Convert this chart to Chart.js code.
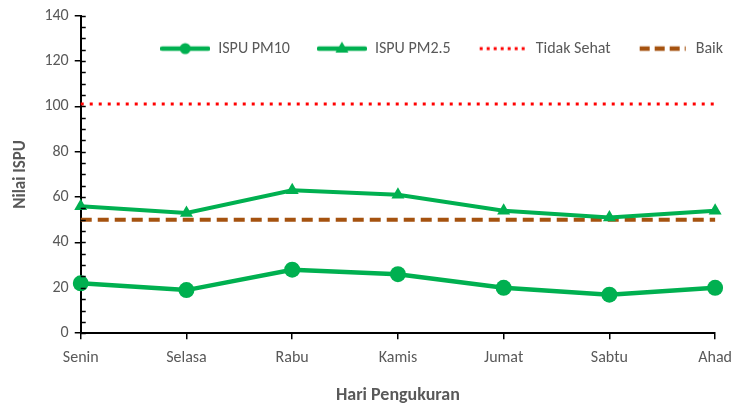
<!DOCTYPE html>
<html>
<head>
<meta charset="utf-8">
<script src="https://cdn.jsdelivr.net/npm/chart.js@4.4.0/dist/chart.umd.min.js"></script>
<style>
  html, body { margin: 0; padding: 0; background: #fff; }
  #wrap { width: 741px; height: 406px; }
</style>
</head>
<body>
<div id="wrap"><canvas id="chart"></canvas></div>
<script>
// Data
const days = ['Senin', 'Selasa', 'Rabu', 'Kamis', 'Jumat', 'Sabtu', 'Ahad'];
const pm10 = [22, 19, 28, 26, 20, 17, 20];
const pm25 = [56, 53, 63, 61, 54, 51, 54];
const tidakSehat = [101, 101, 101, 101, 101, 101, 101];
const baik = [50, 50, 50, 50, 50, 50, 50];
const yTicks = [0, 20, 40, 60, 80, 100, 120, 140];

const GREEN = '#00b050';
const RED = '#ff0000';
const BROWN = '#a5520f';
const GREY = '#595959';
const FONT = 'Carlito, Lato, "Liberation Sans", sans-serif';

// Legend sample: line with marker in the middle
function legendSample(color, width, dash, marker){
	const c = document.createElement('canvas');
	c.width = 50; c.height = 16;
	const ctx = c.getContext('2d');
	ctx.strokeStyle = color;
	ctx.lineWidth = width;
	ctx.setLineDash(dash);
	ctx.lineCap = dash.length ? 'butt' : 'round';
	ctx.beginPath();
	ctx.moveTo(2, 8);
	ctx.lineTo(48, 8);
	ctx.stroke();
	ctx.fillStyle = color;
	if( marker === 'circle' ){
		ctx.beginPath();
		ctx.arc(25, 8, 5.5, 0, Math.PI * 2);
		ctx.fill();
	} else if( marker === 'triangle' ){
		ctx.beginPath();
		ctx.moveTo(25, 1);
		ctx.lineTo(31.5, 12);
		ctx.lineTo(18.5, 12);
		ctx.closePath();
		ctx.fill();
	}
	return c;
}

// Minor ticks inside the y axis (every 5) like Excel
const minorTicks = {
	id: 'minorTicks',
	afterDraw(chart){
		const y = chart.scales.y;
		const ctx = chart.ctx;
		ctx.save();
		ctx.strokeStyle = '#000';
		ctx.lineWidth = 1.5;
		for( let v = 0; v <= 140; v += 5 ){
			const py = Math.round(y.getPixelForValue(v)) + 0.5;
			ctx.beginPath();
			ctx.moveTo(y.right, py);
			ctx.lineTo(y.right + 5, py);
			ctx.stroke();
		}
		ctx.restore();
	}
};

// Legend floats inside the plot area: it takes no layout height,
// then gets its real height back before drawing
const floatLegend = {
	id: 'floatLegend',
	beforeLayout(chart){
		const legend = chart.legend;
		if( legend && !legend._floatPatched ){
			const fit = legend.fit;
			legend.fit = function(){
				fit.call(this);
				this._realHeight = this.height;
				this.height = 0;
			};
			legend._floatPatched = true;
		}
	},
	afterLayout(chart){
		const legend = chart.legend;
		if( legend && legend._realHeight ){
			legend.top -= 2;
			legend.height = legend._realHeight;
			legend.bottom = legend.top + legend._realHeight;
			legend.left += 10;
			legend.right += 10;
		}
	}
};

new Chart(document.getElementById('chart'), {
	type: 'line',
	data: {
		labels: days,
		datasets: [
			{
				label: 'ISPU PM10',
				data: pm10,
				borderColor: GREEN,
				backgroundColor: GREEN,
				borderWidth: 4.5,
				pointStyle: 'circle',
				pointRadius: 8,
				pointBackgroundColor: GREEN,
				pointBorderWidth: 0,
				legendImg: legendSample(GREEN, 4.5, [], 'circle')
			},
			{
				label: 'ISPU PM2.5',
				data: pm25,
				borderColor: GREEN,
				backgroundColor: GREEN,
				borderWidth: 4,
				pointStyle: 'triangle',
				pointRadius: 7.5,
				pointBackgroundColor: GREEN,
				pointBorderWidth: 0,
				legendImg: legendSample(GREEN, 4.5, [], 'triangle')
			},
			{
				label: 'Tidak Sehat',
				data: tidakSehat,
				borderColor: RED,
				borderWidth: 3,
				borderDash: [3, 6],
				borderCapStyle: 'butt',
				pointRadius: 0,
				legendImg: legendSample(RED, 3, [3, 4], null)
			},
			{
				label: 'Baik',
				data: baik,
				borderColor: BROWN,
				borderWidth: 4,
				borderDash: [11, 6],
				pointRadius: 0,
				legendImg: legendSample(BROWN, 4.5, [10, 5], null)
			}
		]
	},
	options: {
		responsive: true,
		maintainAspectRatio: false,
		animation: false,
		layout: {
			padding: { top: 8, right: 1, bottom: 0, left: 11 }
		},
		elements: {
			line: { tension: 0 }
		},
		scales: {
			x: {
				offset: false,
				border: { color: '#000', width: 2 },
				grid: { display: true, drawOnChartArea: false, color: '#000', lineWidth: 1.5, tickLength: 6 },
				ticks: { color: GREY, font: { family: FONT, size: 16 }, padding: 9, maxRotation: 0 },
				title: {
					display: true,
					text: 'Hari Pengukuran',
					color: GREY,
					font: { family: FONT, size: 18, weight: 'bold' },
					padding: { top: 8, bottom: 0 }
				}
			},
			y: {
				min: 0,
				max: 140,
				border: { color: '#000', width: 2 },
				grid: { display: true, drawOnChartArea: false, color: '#000', lineWidth: 1.5, tickLength: 6 },
				afterBuildTicks: function(axis){
					axis.ticks = yTicks.map(v => ({ value: v }));
				},
				ticks: { color: GREY, font: { family: FONT, size: 16 }, padding: 6 },
				title: {
					display: true,
					text: 'Nilai ISPU',
					color: GREY,
					font: { family: FONT, size: 17, weight: 'bold' },
					padding: { top: 0, bottom: 7 }
				}
			}
		},
		plugins: {
			legend: {
				position: 'top',
				align: 'end',
				labels: {
					usePointStyle: true,
					pointStyleWidth: 50,
					color: GREY,
					font: { family: FONT, size: 16 },
					padding: 27,
					generateLabels: function(chart){
						return chart.data.datasets.map((ds, i) => ({
							text: ds.label,
							pointStyle: ds.legendImg,
							fontColor: GREY,
							strokeStyle: 'transparent',
							fillStyle: 'transparent',
							lineWidth: 0,
							hidden: false,
							datasetIndex: i
						}));
					}
				}
			},
			tooltip: { enabled: false }
		}
	},
	plugins: [minorTicks, floatLegend]
});
</script>
</body>
</html>
